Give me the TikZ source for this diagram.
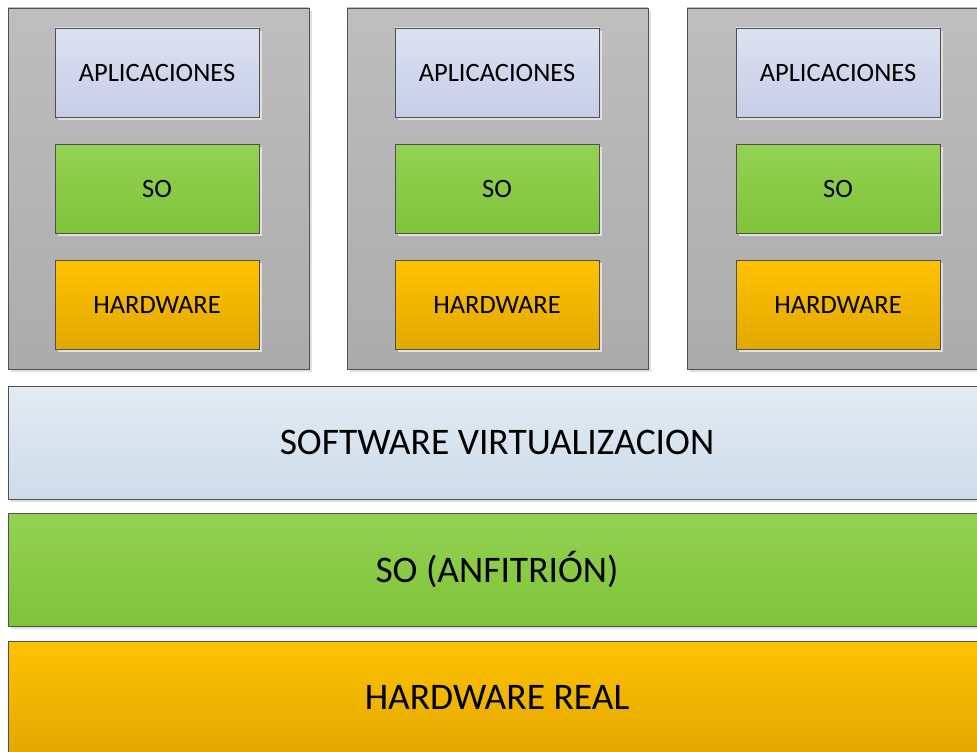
\documentclass[tikz,border=0pt]{standalone}
\usepackage{fontspec}
\setmainfont{Carlito}
\usetikzlibrary{shadows}

\definecolor{frameline}{HTML}{505050}
\definecolor{vmtop}{HTML}{BEBEBE}
\definecolor{vmbot}{HTML}{ABABAB}
\definecolor{apptop}{HTML}{DDE2F1}
\definecolor{appbot}{HTML}{C6CDE6}
\definecolor{ostop}{HTML}{94D152}
\definecolor{osbot}{HTML}{80C33A}
\definecolor{hwtop}{HTML}{FFC200}
\definecolor{hwbot}{HTML}{E2A800}
\definecolor{virttop}{HTML}{E3EBF4}
\definecolor{virtbot}{HTML}{CCDCEA}

\tikzset{
  layer/.style={rectangle, anchor=north west, inner sep=0pt, outer sep=0pt,
    draw=frameline, line width=0.8pt,
    drop shadow={shadow xshift=3pt, shadow yshift=-3pt, fill=black!12, opacity=1}},
  vmbox/.style={layer, minimum width=301pt, minimum height=361pt,
    top color=vmtop, bottom color=vmbot},
  small/.style={layer, minimum width=204pt, minimum height=89pt,
    font=\fontsize{26.5}{30}\selectfont},
  appbox/.style={small, top color=apptop, bottom color=appbot},
  osbox/.style={small, top color=ostop, bottom color=osbot},
  hwbox/.style={small, top color=hwtop, bottom color=hwbot},
  bar/.style={layer, minimum width=990pt, minimum height=113pt,
    font=\fontsize{37.5}{42}\selectfont},
}

\begin{document}
\begin{tikzpicture}[x=1pt, y=-1pt]
  \useasboundingbox (0,0) rectangle (977,752);
  \clip (0,0) rectangle (977,752);

  % three guest machines
  \foreach \n/\vx/\ix in {1/8/55, 2/347/395, 3/687/736} {
    \node[vmbox] (vm\n) at (\vx,8) {};
    \node[appbox] (app\n) at (\ix,28) {APLICACIONES};
    \node[osbox]  (os\n)  at (\ix,144) {SO};
    \node[hwbox]  (hw\n)  at (\ix,260) {HARDWARE};
  }

  % host layers
  \node[bar, top color=virttop, bottom color=virtbot] (virt) at (8,386)
    {\hspace*{-12pt}SOFTWARE VIRTUALIZACION};
  \node[bar, top color=ostop, bottom color=osbot] (host) at (8,513)
    {\hspace*{-12pt}SO (ANFITRIÓN)};
  \node[bar, minimum height=112pt, top color=hwtop, bottom color=hwbot] (real) at (8,641)
    {\hspace*{-12pt}HARDWARE REAL};
\end{tikzpicture}
\end{document}
